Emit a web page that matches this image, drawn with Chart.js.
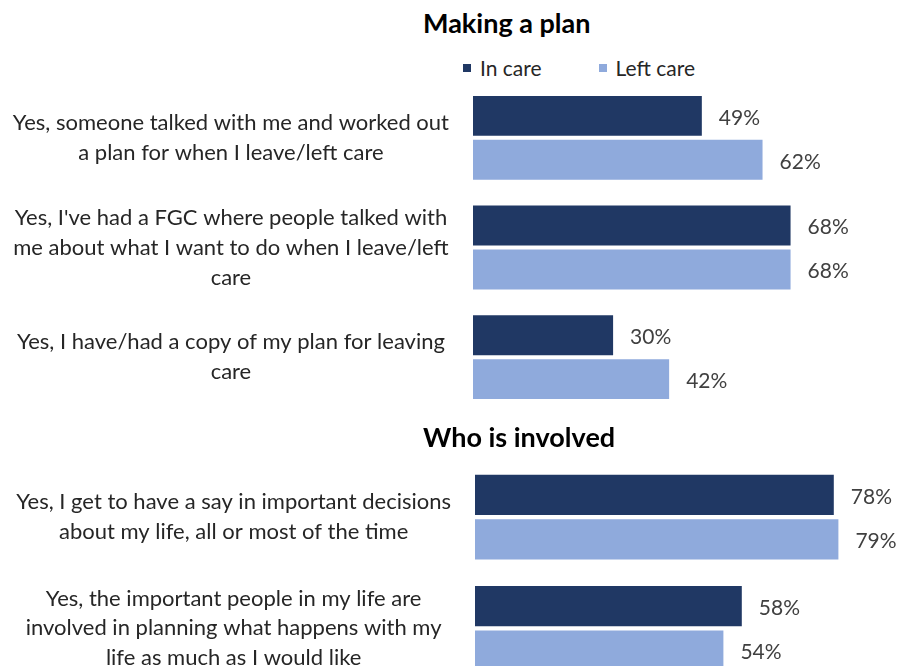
<!DOCTYPE html>
<html lang="en">
<head>
<meta charset="utf-8">
<title>Leaving care plans</title>
<script src="https://cdn.jsdelivr.net/npm/chart.js@4.4.1/dist/chart.umd.min.js"></script>
<style>
  body {
    margin: 0;
    width: 898px;
    height: 666px;
    overflow: hidden;
    position: relative;
    background: #fff;
    font-family: Lato, "Open Sans", sans-serif;
  }
  .section-title {
    position: absolute;
    left: 423px;
    margin: 0;
    font-size: 27px;
    font-weight: 700;
    line-height: 1;
    color: #000;
  }
  .chart-box {
    position: absolute;
    left: 0;
  }
  #legend {
    position: absolute;
    left: 463px;
    top: 57px;
    display: flex;
    gap: 57px;
    font-size: 21px;
    line-height: 1;
    color: #262626;
  }
  #legend .item {
    display: flex;
    align-items: center;
  }
  #legend i {
    width: 8px;
    height: 8px;
    margin-right: 9px;
  }
</style>
</head>
<body>
<h2 class="section-title" style="top: 9px">Making a plan</h2>
<div id="legend"></div>
<div class="chart-box" style="top: 0; width: 940px; height: 472px">
  <canvas id="plan-chart"></canvas>
</div>

<h2 class="section-title" style="top: 423px">Who is involved</h2>
<div class="chart-box" style="top: 377px; width: 935px; height: 367px">
  <canvas id="involved-chart"></canvas>
</div>

<script>
const seriesNames = ["In care", "Left care"];
const seriesColors = ["#203864", "#8FAADC"];

const planCategories = [
  ["Yes, someone talked with me and worked out", "a plan for when I leave/left care"],
  ["Yes, I've had a FGC where people talked with", "me about what I want to do when I leave/left", "care"],
  ["Yes, I have/had a copy of my plan for leaving", "care"],
];
const planInCare = [49, 68, 30];
const planLeftCare = [62, 68, 42];

const involvedCategories = [
  ["Yes, I get to have a say in important decisions", "about my life, all or most of the time"],
  ["Yes, the important people in my life are", "involved in planning what happens with my", "life as much as I would like"],
];
const involvedInCare = [78, 58];
const involvedLeftCare = [79, 54];

// percentage text just past the end of each bar
const valueLabels = {
  id: "valueLabels",
  afterDatasetsDraw(chart) {
    const ctx = chart.ctx;
    ctx.save();
    ctx.font = "21px Lato";
    ctx.fillStyle = "#404040";
    ctx.textAlign = "left";
    ctx.textBaseline = "middle";
    chart.data.datasets.forEach((ds, i) => {
      chart.getDatasetMeta(i).data.forEach((bar, j) => {
        ctx.fillText(ds.data[j] + "%", bar.x + 17, bar.y + 2);
      });
    });
    ctx.restore();
  },
};

function makeBarChart(canvasId, categories, inCare, leftCare, opts) {
  const ctx = document.getElementById(canvasId).getContext("2d");
  return new Chart(ctx, {
    type: "bar",
    data: {
      labels: categories,
      datasets: [inCare, leftCare].map((values, i) => ({
        label: seriesNames[i],
        data: values,
        backgroundColor: seriesColors[i],
        categoryPercentage: 0.8,
        barPercentage: 0.91,
      })),
    },
    options: {
      indexAxis: "y",
      responsive: true,
      maintainAspectRatio: false,
      animation: false,
      layout: {
        padding: { top: opts.top, bottom: 60, left: 0, right: 0 },
      },
      scales: {
        x: { display: false, min: 0, max: 100 },
        y: {
          grid: { display: false, drawTicks: false },
          border: { display: false },
          ticks: {
            color: "#262626",
            padding: 24,
            crossAlign: "center",
            autoSkip: false,
            font: { family: "Lato", size: 22, lineHeight: 1.36 },
          },
          afterFit: (scale) => {
            scale.width = opts.axisWidth;
          },
        },
      },
      plugins: {
        legend: { display: false },
        tooltip: { enabled: true },
      },
    },
    plugins: [valueLabels],
  });
}

const planChart = makeBarChart("plan-chart", planCategories, planInCare, planLeftCare, {
  top: 83,
  axisWidth: 473,
});
makeBarChart("involved-chart", involvedCategories, involvedInCare, involvedLeftCare, {
  top: 84.5,
  axisWidth: 475,
});

const legendEl = document.getElementById("legend");
planChart.data.datasets.forEach((ds) => {
  const item = document.createElement("span");
  item.className = "item";
  item.innerHTML = `<i style="background:${ds.backgroundColor}"></i>${ds.label}`;
  legendEl.appendChild(item);
});
</script>
</body>
</html>
